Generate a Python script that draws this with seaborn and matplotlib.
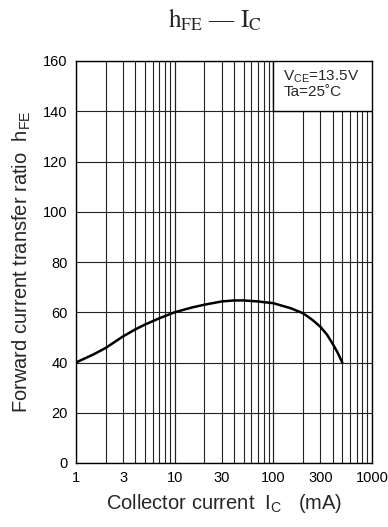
import numpy as np
import matplotlib
matplotlib.use("Agg")
import matplotlib.pyplot as plt
import seaborn as sns
from matplotlib.patches import Rectangle
from matplotlib.ticker import FixedLocator, NullFormatter

# curve
ic_ma = [1, 1.5, 2, 3, 4, 5, 7, 10, 15, 20, 30, 40, 50, 70, 100, 150, 200, 250, 300, 350, 400, 450, 500]
hfe = [40, 43.2, 45.8, 50.4, 53.2, 55.1, 57.6, 60, 61.9, 63.0, 64.3, 64.7, 64.7, 64.3, 63.6,
       61.6, 59.6, 56.9, 54.2, 51.1, 47.4, 43.8, 40]

x_ticks = [1, 3, 10, 30, 100, 300, 1000]
x_ticklabels = ["1", "3", "10", "30", "100", "300", "1000"]
y_ticks = [0, 20, 40, 60, 80, 100, 120, 140, 160]

sns.set_style("white")
plt.rcParams['font.family'] = ['Liberation Sans', 'DejaVu Sans']
plt.rcParams['mathtext.fontset'] = 'custom'
plt.rcParams['mathtext.rm'] = 'Liberation Sans'
plt.rcParams['mathtext.it'] = 'Liberation Sans'

fig = plt.figure(figsize=(3.88, 5.27), dpi=100)
ax = fig.add_axes([76/388, 1-463/527, 296/388, 402/527])

sns.lineplot(x=ic_ma, y=hfe, ax=ax, color="black", lw=1.8, zorder=4)

ax.set_xscale("log")
ax.set_xlim(1, 1000)
ax.set_ylim(0, 160)

minor = [m * 10**d for d in range(3) for m in range(2, 10)]
ax.xaxis.set_major_locator(FixedLocator(x_ticks))
ax.xaxis.set_minor_locator(FixedLocator(minor))
ax.xaxis.set_minor_formatter(NullFormatter())
ax.set_xticklabels(x_ticklabels)
ax.set_yticks(y_ticks)

ax.grid(True, which="both", axis="x", color="#222222", lw=0.8)
ax.grid(True, which="major", axis="y", color="#222222", lw=0.8)
for v in [10, 100]:
    ax.axvline(v, color="#222222", lw=0.8, zorder=1)

ax.tick_params(axis="both", which="both", length=0, labelsize=10.5, colors="black")
ax.tick_params(axis="y", pad=6)
ax.tick_params(axis="x", pad=6)
for s in ax.spines.values():
    s.set_color("black")
    s.set_linewidth(1.0)

ax.set_xlabel(r"Collector current  $\mathrm{I_C}$   (mA)", fontsize=14.5, labelpad=5)
ax.set_ylabel(r"Forward current transfer ratio  $\mathrm{h_{FE}}$", fontsize=14.5)
ax.yaxis.set_label_coords(-0.145, 0.5)

# condition box in the top right corner
ax.add_patch(Rectangle((0.665, 0.876), 0.335, 0.124, transform=ax.transAxes,
                       fc="white", ec="black", lw=1.0, zorder=5))
ax.text(0.70, 0.98, "$\mathrm{V_{CE}}$=13.5V\nTa=25˚C", transform=ax.transAxes,
        ha="left", va="top", fontsize=11, linespacing=1.0, zorder=6)

fig.text(0.553, 0.962, r"$\mathrm{h_{FE}}$ — $\mathrm{I_C}$", ha="center", va="center",
         fontsize=18, family=["Liberation Serif", "DejaVu Serif"], math_fontfamily="stix")

fig.savefig("out.png", dpi=100)
